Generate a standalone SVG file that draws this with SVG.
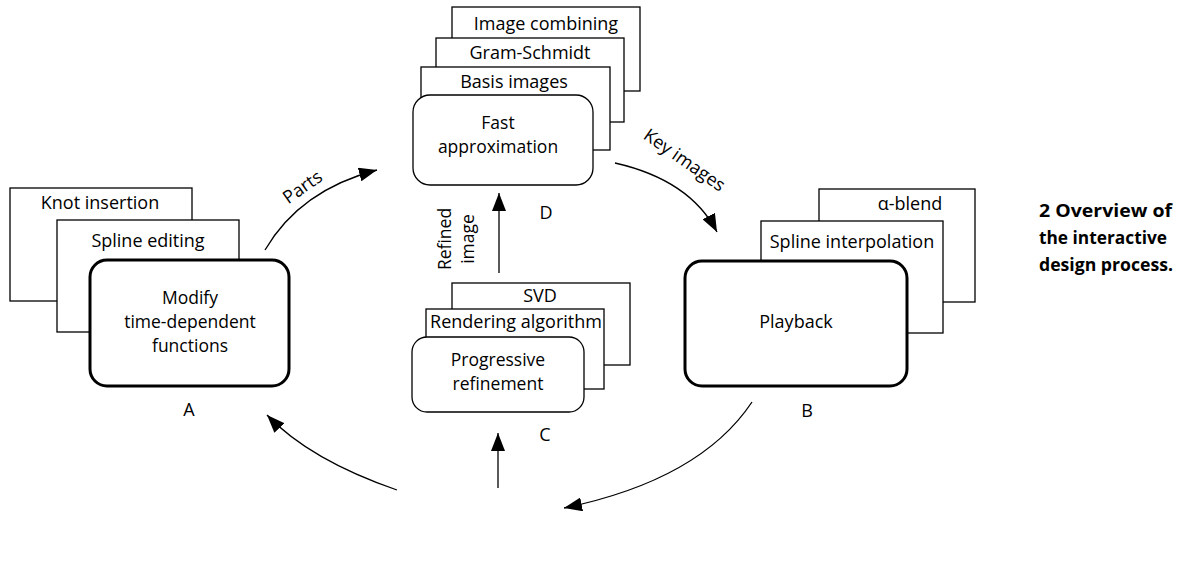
<svg xmlns="http://www.w3.org/2000/svg" width="1177" height="579" viewBox="0 0 1177 579">
<style>
text{font-family:"Open Sans","Liberation Sans",sans-serif;font-size:18px;fill:#000;text-anchor:middle}
.ml{font-size:17.5px}
.box{fill:#fff;stroke:#000;stroke-width:1.3}
.thick{fill:#fff;stroke:#000;stroke-width:3}
.conn{fill:none;stroke:#000;stroke-width:1.3}
.cap{font-weight:bold;font-size:17px;text-anchor:start}
</style>
<defs>
<marker id="ah" markerWidth="18" markerHeight="14" refX="18" refY="7" orient="auto" markerUnits="userSpaceOnUse"><path d="M0,0 L18,7 L0,14 z" fill="#000"/></marker>
</defs>
<rect width="1177" height="579" fill="#fff"/>
<g id="nodeA">
<rect class="box" x="10" y="188" width="182" height="113"/>
<text x="100" y="209">Knot insertion</text>
<rect class="box" x="57" y="220" width="182" height="112"/>
<text x="148" y="247">Spline editing</text>
<rect class="thick" x="90" y="260" width="199" height="126" rx="17"/>
<text class="ml" x="190" y="304">Modify</text>
<text class="ml" x="190" y="328">time-dependent</text>
<text class="ml" x="190" y="352">functions</text>
<text x="189" y="416">A</text>
</g>
<g id="nodeD">
<rect class="box" x="452" y="7" width="188" height="84"/>
<text x="546" y="30">Image combining</text>
<rect class="box" x="436" y="38" width="188" height="84"/>
<text x="530" y="59">Gram-Schmidt</text>
<rect class="box" x="421" y="67" width="189" height="83"/>
<text x="514" y="88">Basis images</text>
<rect class="box" x="413" y="95" width="180" height="90" rx="17"/>
<text class="ml" x="498" y="129">Fast</text>
<text class="ml" x="498" y="153">approximation</text>
<text x="546" y="219">D</text>
</g>
<g id="nodeC">
<rect class="box" x="452" y="283" width="178" height="82"/>
<text x="540" y="302">SVD</text>
<rect class="box" x="426" y="309" width="178" height="80"/>
<text x="516" y="328">Rendering algorithm</text>
<rect class="box" x="412" y="337" width="172" height="75" rx="15"/>
<text class="ml" x="498" y="366">Progressive</text>
<text class="ml" x="498" y="390">refinement</text>
<text x="545" y="441">C</text>
</g>
<g id="nodeB">
<rect class="box" x="819" y="189" width="156" height="113"/>
<text x="910" y="210">α-blend</text>
<rect class="box" x="761" y="221" width="182" height="112"/>
<text x="852" y="248">Spline interpolation</text>
<rect class="thick" x="685" y="261" width="222" height="125" rx="17"/>
<text x="796" y="328">Playback</text>
<text x="807" y="417">B</text>
</g>
<g id="connectors">
<path class="conn" d="M265,250 Q300,190 377,170" marker-end="url(#ah)"/>
<path class="conn" d="M615,163 Q690,180 717,232" marker-end="url(#ah)"/>
<path class="conn" d="M752,402 Q700,480 564,508" marker-end="url(#ah)"/>
<path class="conn" d="M397,490 Q310,460 267,415" marker-end="url(#ah)"/>
<path class="conn" d="M499,273 L499,193" marker-end="url(#ah)"/>
<path class="conn" d="M498,488 L498,433" marker-end="url(#ah)"/>
</g>
<g id="labels">
<text transform="translate(306,192) rotate(-35)">Parts</text>
<text transform="translate(681,165) rotate(35)">Key images</text>
<text class="ml" transform="translate(451,239) rotate(-90)">Refined</text>
<text class="ml" transform="translate(474,239) rotate(-90)">image</text>
</g>
<g id="caption">
<text class="cap" x="1039" y="217" textLength="133" lengthAdjust="spacingAndGlyphs">2  Overview of</text>
<text class="cap" x="1039" y="244" textLength="128" lengthAdjust="spacingAndGlyphs">the interactive</text>
<text class="cap" x="1039" y="271" textLength="134" lengthAdjust="spacingAndGlyphs">design process.</text>
</g>
</svg>
